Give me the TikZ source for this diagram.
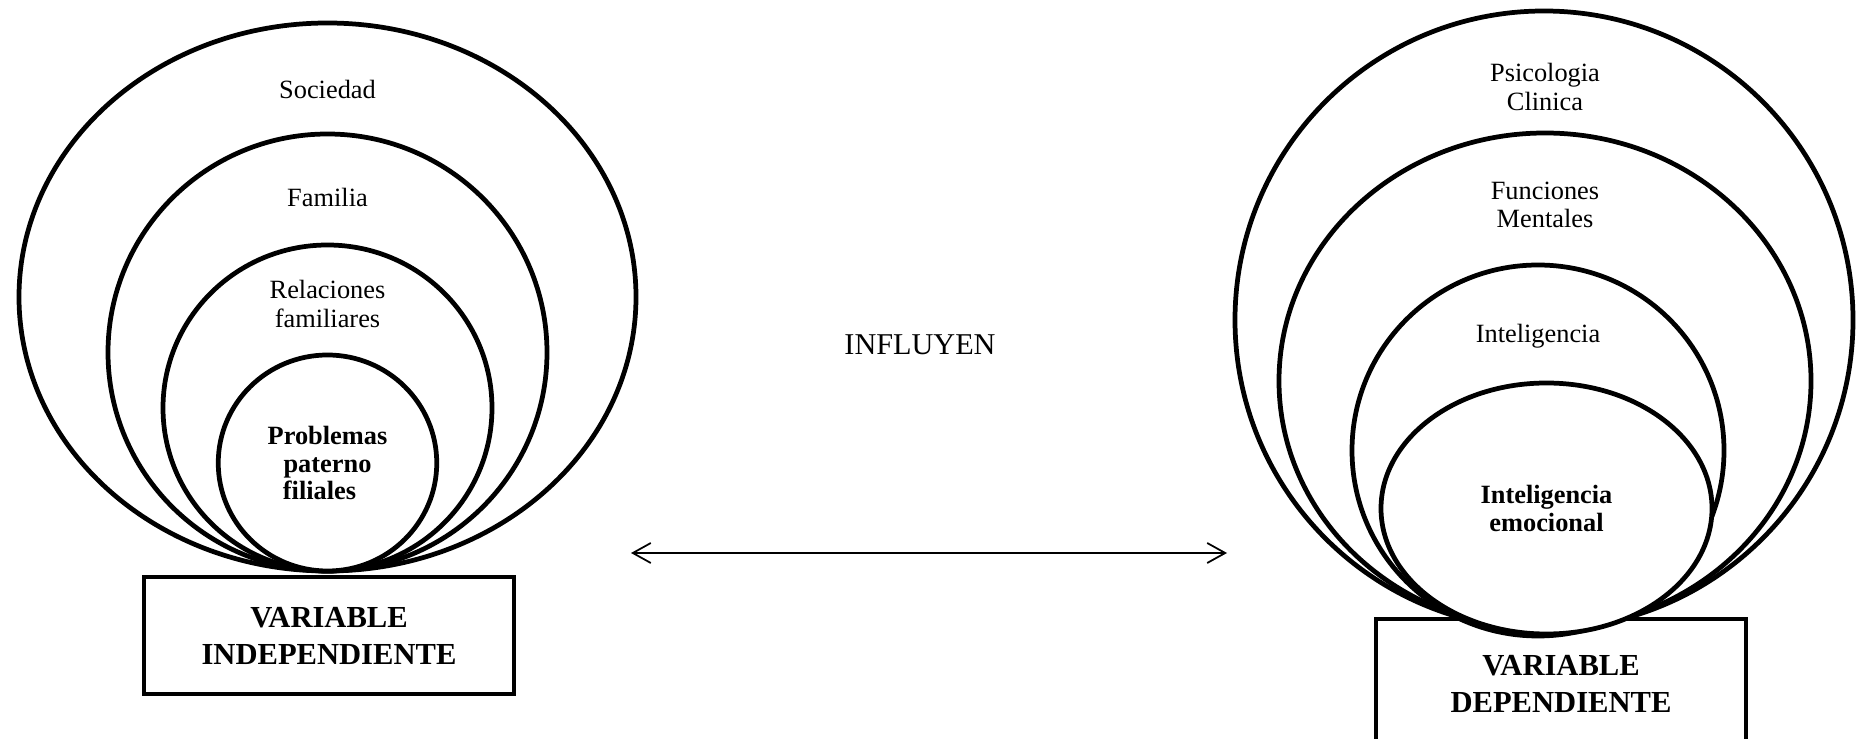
\documentclass[tikz,border=0pt]{standalone}
\usepackage{fontspec}
\setmainfont{Liberation Serif}
\usetikzlibrary{shapes.geometric,arrows.meta}

\begin{document}
\begin{tikzpicture}[
  anillo/.style={
    ellipse,
    draw=black,
    fill=white,
    line width=1.35pt,
    inner sep=0pt
  },
  etiqueta/.style={align=center, font=\fontsize{7.5}{8}\selectfont},
  clave/.style={align=center, font=\bfseries\fontsize{7.5}{7.7}\selectfont},
  caja/.style={draw=black, line width=1.3pt, minimum width=3.70cm, align=center, font=\bfseries\fontsize{8.7}{10.5}\selectfont},
  doble/.style={{Straight Barb[length=1.8mm,width=2mm]}-{Straight Barb[length=1.8mm,width=2mm]}, line width=0.5pt}
]
\useasboundingbox (0,0) rectangle (18.56,7.39);

% Left: variable independiente
\node[anillo, minimum width=6.17cm, minimum height=5.48cm] (sociedad) at (3.275, 4.42) {};
\node[anillo, minimum width=4.39cm, minimum height=4.37cm] (familia) at (3.275, 3.865) {};
\node[anillo, minimum width=3.29cm, minimum height=3.26cm] (relaciones) at (3.275, 3.31) {};
\node[anillo, minimum width=2.185cm, minimum height=2.16cm, clave] (problemas) at (3.275, 2.76) {Problemas\\paterno\\filiales\hspace*{1.6mm}};
\node[caja, minimum height=1.17cm] (vi) at (3.29, 1.035) {VARIABLE\\INDEPENDIENTE};

\node[etiqueta] (tsociedad) at (3.275, 6.50) {Sociedad};
\node[etiqueta] (tfamilia) at (3.275, 5.42) {Familia};
\node[etiqueta] (trelaciones) at (3.275, 4.35) {Relaciones\\familiares};

% Middle
\node[etiqueta, font=\fontsize{8.6}{9}\selectfont] (influyen) at (9.20, 3.94) {INFLUYEN};
\coordinate (izq) at (6.31, 1.86);
\coordinate (der) at (12.27, 1.86);
\draw[doble] (izq) -- (der);

% Right: variable dependiente
\node[caja, minimum height=1.30cm] (vd) at (15.61, 0.55) {VARIABLE\\DEPENDIENTE};
\node[anillo, minimum width=6.18cm, minimum height=6.18cm] (psicologia) at (15.44, 4.19) {};
\node[anillo, minimum width=5.32cm, minimum height=4.96cm] (funciones) at (15.45, 3.58) {};
\node[anillo, minimum width=3.72cm, minimum height=3.71cm] (inteligencia) at (15.38, 2.885) {};
\node[anillo, minimum width=3.31cm, minimum height=2.51cm, clave] (emocional) at (15.465, 2.305) {Inteligencia\\emocional};

\node[etiqueta] (tpsicologia) at (15.45, 6.52) {Psicologia\\Clinica};
\node[etiqueta] (tfunciones) at (15.45, 5.34) {Funciones\\Mentales};
\node[etiqueta] (tinteligencia) at (15.38, 4.03) {Inteligencia};

\end{tikzpicture}
\end{document}
